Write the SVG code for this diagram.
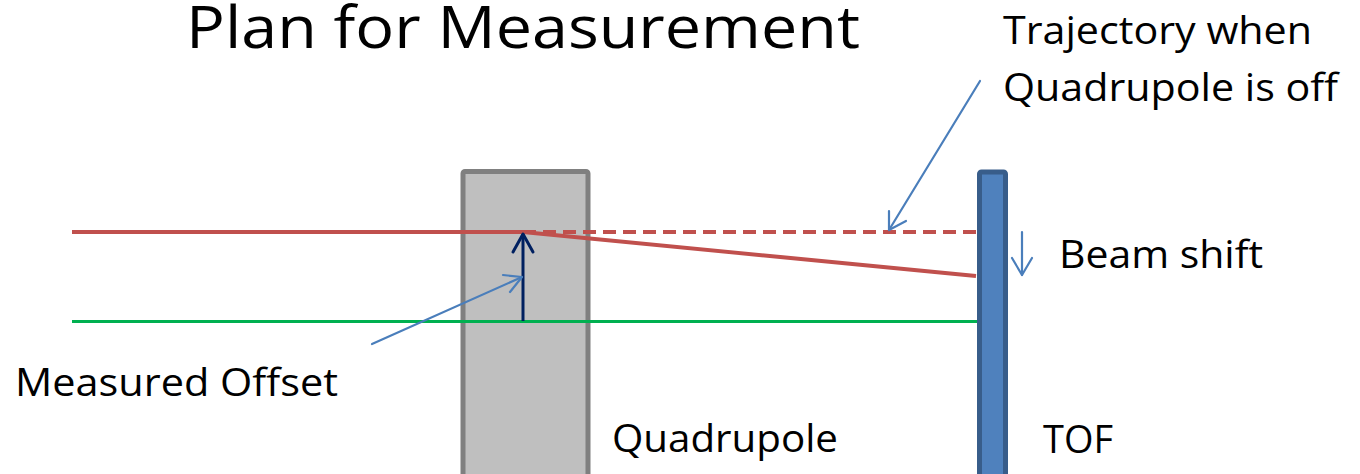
<svg xmlns="http://www.w3.org/2000/svg" width="1360" height="474" viewBox="0 0 1360 474">
<style>
text{font-family:"Open Sans","Noto Sans","Liberation Sans",sans-serif;fill:#000}
.lbl{font-size:39px}
.title{font-size:58px}
.call{fill:none;stroke:#4a7ebb;stroke-width:2.2;stroke-linecap:round;stroke-linejoin:round}
.beam{fill:none;stroke:#c0504d;stroke-width:4}
</style>
<rect width="1360" height="474" fill="#fff"/>
<text class="title" x="186" y="48" textLength="674" lengthAdjust="spacingAndGlyphs">Plan for Measurement</text>
<g id="quadrupole">
<rect x="463" y="171.5" width="125" height="320" rx="2" fill="#bfbfbf" stroke="#808080" stroke-width="5"/>
<text class="lbl" x="612" y="452" textLength="226" lengthAdjust="spacingAndGlyphs">Quadrupole</text>
</g>
<g id="connectors">
<line class="beam" x1="72" y1="232" x2="523" y2="232"/>
<line class="beam" x1="523" y1="232" x2="976" y2="232" stroke-dasharray="13 7"/>
<line class="beam" x1="523" y1="232" x2="976" y2="276"/>
<line x1="72" y1="321.5" x2="977" y2="321.5" stroke="#00b050" stroke-width="3"/>
<line x1="523" y1="321" x2="523" y2="234" stroke="#002060" stroke-width="3"/>
<polyline points="513,252 523,234 533,252" fill="none" stroke="#002060" stroke-width="3" stroke-linecap="round" stroke-linejoin="round"/>
<line class="call" x1="980" y1="81" x2="889" y2="230"/>
<polyline class="call" points="889,211 889,230 906,221"/>
<line class="call" x1="372" y1="344" x2="522" y2="277"/>
<polyline class="call" points="503,275 522,277 510,292"/>
<line class="call" x1="1022" y1="232" x2="1022" y2="275"/>
<polyline class="call" points="1012,258 1022,275 1032,258"/>
</g>
<g id="tof">
<rect x="979.5" y="172" width="26" height="320" rx="2" fill="#4f81bd" stroke="#385d8a" stroke-width="5"/>
<text class="lbl" x="1043" y="453" textLength="70" lengthAdjust="spacingAndGlyphs">TOF</text>
</g>
<g id="label-trajectory">
<text class="lbl" x="1003" y="44" textLength="309" lengthAdjust="spacingAndGlyphs">Trajectory when</text>
<text class="lbl" x="1003" y="101" textLength="335" lengthAdjust="spacingAndGlyphs">Quadrupole is off</text>
</g>
<g id="label-beamshift">
<text class="lbl" x="1059" y="268" textLength="204" lengthAdjust="spacingAndGlyphs">Beam shift</text>
</g>
<g id="label-offset">
<text class="lbl" x="15" y="396" textLength="323" lengthAdjust="spacingAndGlyphs">Measured Offset</text>
</g>
</svg>
